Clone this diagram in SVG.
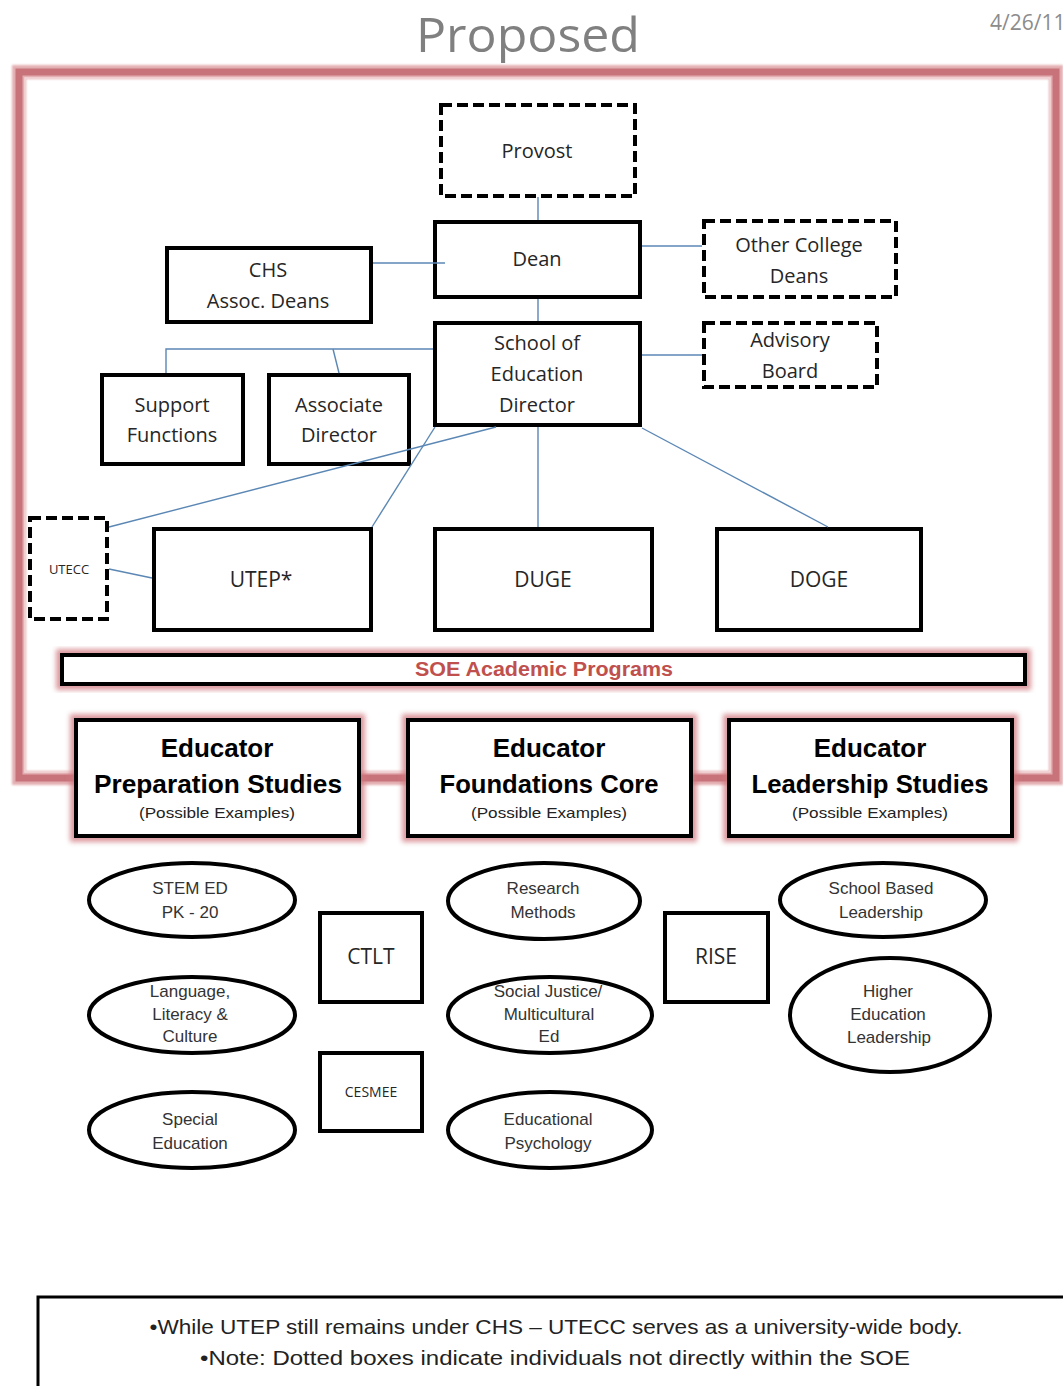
<svg xmlns="http://www.w3.org/2000/svg" width="1063" height="1386" viewBox="0 0 1063 1386">
<defs>
<filter id="glow" x="-10%" y="-30%" width="120%" height="160%">
<feGaussianBlur stdDeviation="2.5"/>
</filter>
<filter id="soft" x="-5%" y="-5%" width="110%" height="110%">
<feGaussianBlur stdDeviation="1.2"/>
</filter>
</defs>
<style>
.box{fill:#fff;stroke:#000;stroke-width:4}
.dash{fill:#fff;stroke:#000;stroke-width:4;stroke-dasharray:11 5}
.ell{fill:#fff;stroke:#000;stroke-width:4}
.t{font-family:"Open Sans","DejaVu Sans",sans-serif;font-size:20px;fill:#262626;text-anchor:middle}
.e{font-family:"Liberation Sans",Arial,sans-serif;font-size:17px;fill:#333;text-anchor:middle}
.h{font-family:"Liberation Sans",Arial,sans-serif;font-size:26px;font-weight:bold;fill:#000;text-anchor:middle}
.p{font-family:"Liberation Sans",Arial,sans-serif;font-size:15px;fill:#222;text-anchor:middle}
.n{font-family:"Liberation Sans",Arial,sans-serif;font-size:21px;fill:#222;text-anchor:middle}
.conn line,.conn polyline{stroke:#5b87b4;stroke-width:1.4;fill:none}
.glowr{fill:none;stroke:#d0787e;stroke-width:12;opacity:0.75}
</style>
<rect width="1063" height="1386" fill="#fff"/>

<g id="title">
<text x="528" y="52" font-family="Open Sans, DejaVu Sans, sans-serif" font-size="48" fill="#808080" text-anchor="middle" textLength="224" lengthAdjust="spacingAndGlyphs">Proposed</text>
<text x="990" y="30" font-family="Open Sans, DejaVu Sans, sans-serif" font-size="21" fill="#8c8c8c">4/26/11</text>
</g>

<g id="frame">
<rect x="19" y="72" width="1037" height="706" fill="none" stroke="#e3aeb2" stroke-width="14" filter="url(#soft)"/>
<rect x="19" y="72" width="1037" height="706" fill="none" stroke="#c8737a" stroke-width="7"/>
<rect x="25" y="78" width="1025" height="694" fill="none" stroke="#f3d6d8" stroke-width="1.5"/>
</g>

<g id="provost"><rect class="dash" x="441" y="105" width="194" height="91"/><text class="t" x="537" y="158">Provost</text></g>
<g id="dean"><rect class="box" x="435" y="222" width="205" height="75"/><text class="t" x="537" y="266">Dean</text></g>
<g id="chs"><rect class="box" x="167" y="248" width="204" height="74"/><text class="t" x="268" y="277">CHS</text><text class="t" x="268" y="308">Assoc. Deans</text></g>
<g id="other-deans"><rect class="dash" x="704" y="221" width="192" height="76"/><text class="t" x="799" y="252">Other College</text><text class="t" x="799" y="283">Deans</text></g>
<g id="soe-director"><rect class="box" x="435" y="323" width="205" height="102"/><text class="t" x="537" y="350">School of</text><text class="t" x="537" y="381">Education</text><text class="t" x="537" y="412">Director</text></g>
<g id="advisory"><rect class="dash" x="704" y="323" width="173" height="64"/><text class="t" x="790" y="347">Advisory</text><text class="t" x="790" y="378">Board</text></g>
<g id="support"><rect class="box" x="102" y="375" width="141" height="89"/><text class="t" x="172" y="412">Support</text><text class="t" x="172" y="442">Functions</text></g>
<g id="assoc-director"><rect class="box" x="269" y="375" width="140" height="89"/><text class="t" x="339" y="412">Associate</text><text class="t" x="339" y="442">Director</text></g>
<g id="utecc"><rect class="dash" x="30" y="518" width="77" height="101"/><text class="t" x="69" y="574" style="font-size:13px">UTECC</text></g>
<g id="utep"><rect class="box" x="154" y="529" width="217" height="101"/><text class="t" x="261" y="587" style="font-size:21px">UTEP*</text></g>
<g id="duge"><rect class="box" x="435" y="529" width="217" height="101"/><text class="t" x="543" y="587" style="font-size:21px">DUGE</text></g>
<g id="doge"><rect class="box" x="717" y="529" width="204" height="101"/><text class="t" x="819" y="587" style="font-size:21px">DOGE</text></g>

<g class="conn" id="connectors">
<line x1="538" y1="197" x2="538" y2="220"/>
<line x1="373" y1="263" x2="445" y2="263"/>
<line x1="642" y1="246" x2="702" y2="246"/>
<line x1="538" y1="299" x2="538" y2="321"/>
<line x1="642" y1="355" x2="702" y2="355"/>
<polyline points="433,349 166,349 166,373"/>
<line x1="333" y1="349" x2="339" y2="373"/>
<line x1="538" y1="427" x2="538" y2="527"/>
<line x1="642" y1="428" x2="828" y2="527"/>
<line x1="435" y1="427" x2="372" y2="527"/>
<line x1="496" y1="427" x2="109" y2="527"/>
<line x1="109" y1="569" x2="152" y2="578"/>
</g>

<g id="soe-programs">
<rect x="62" y="655" width="963" height="29" class="glowr" filter="url(#glow)"/>
<rect x="62" y="655" width="963" height="29" fill="#fff" stroke="#000" stroke-width="4"/>
<text x="544" y="676" font-family="Liberation Sans, Arial, sans-serif" font-size="20" font-weight="bold" fill="#c0504d" text-anchor="middle" textLength="258" lengthAdjust="spacingAndGlyphs">SOE Academic Programs</text>
</g>

<g id="prep-studies">
<rect x="76" y="720" width="283" height="116" class="glowr" filter="url(#glow)"/>
<rect x="76" y="720" width="283" height="116" class="box"/>
<text class="h" x="217" y="757">Educator</text>
<text class="h" x="218" y="793" textLength="248" lengthAdjust="spacingAndGlyphs">Preparation Studies</text>
<text class="p" x="217" y="818" textLength="156" lengthAdjust="spacingAndGlyphs">(Possible Examples)</text>
</g>
<g id="foundations-core">
<rect x="408" y="720" width="283" height="116" class="glowr" filter="url(#glow)"/>
<rect x="408" y="720" width="283" height="116" class="box"/>
<text class="h" x="549" y="757">Educator</text>
<text class="h" x="549" y="793" textLength="219" lengthAdjust="spacingAndGlyphs">Foundations Core</text>
<text class="p" x="549" y="818" textLength="156" lengthAdjust="spacingAndGlyphs">(Possible Examples)</text>
</g>
<g id="leadership-studies">
<rect x="729" y="720" width="283" height="116" class="glowr" filter="url(#glow)"/>
<rect x="729" y="720" width="283" height="116" class="box"/>
<text class="h" x="870" y="757">Educator</text>
<text class="h" x="870" y="793" textLength="237" lengthAdjust="spacingAndGlyphs">Leadership Studies</text>
<text class="p" x="870" y="818" textLength="156" lengthAdjust="spacingAndGlyphs">(Possible Examples)</text>
</g>

<g id="stem"><ellipse class="ell" cx="192" cy="900" rx="103" ry="37"/><text class="e" x="190" y="894">STEM ED</text><text class="e" x="190" y="918">PK - 20</text></g>
<g id="language"><ellipse class="ell" cx="192" cy="1015" rx="103" ry="38"/><text class="e" x="190" y="997">Language,</text><text class="e" x="190" y="1020">Literacy &amp;</text><text class="e" x="190" y="1042">Culture</text></g>
<g id="special-ed"><ellipse class="ell" cx="192" cy="1130" rx="103" ry="38"/><text class="e" x="190" y="1125">Special</text><text class="e" x="190" y="1149">Education</text></g>
<g id="ctlt"><rect class="box" x="320" y="913" width="102" height="89"/><text class="t" x="371" y="964" style="font-size:21px">CTLT</text></g>
<g id="cesmee"><rect class="box" x="320" y="1053" width="102" height="78"/><text class="t" x="371" y="1097" style="font-size:14px">CESMEE</text></g>
<g id="research"><ellipse class="ell" cx="544" cy="901" rx="96" ry="38"/><text class="e" x="543" y="894">Research</text><text class="e" x="543" y="918">Methods</text></g>
<g id="social-justice"><ellipse class="ell" cx="550" cy="1015" rx="102" ry="38"/><text class="e" x="548" y="997">Social Justice/</text><text class="e" x="549" y="1020">Multicultural</text><text class="e" x="549" y="1042">Ed</text></g>
<g id="ed-psych"><ellipse class="ell" cx="550" cy="1130" rx="102" ry="38"/><text class="e" x="548" y="1125">Educational</text><text class="e" x="548" y="1149">Psychology</text></g>
<g id="rise"><rect class="box" x="665" y="913" width="103" height="89"/><text class="t" x="716" y="964" style="font-size:21px">RISE</text></g>
<g id="school-leadership"><ellipse class="ell" cx="883" cy="900" rx="103" ry="37"/><text class="e" x="881" y="894">School Based</text><text class="e" x="881" y="918">Leadership</text></g>
<g id="higher-ed"><ellipse class="ell" cx="890" cy="1015" rx="100" ry="57"/><text class="e" x="888" y="997">Higher</text><text class="e" x="888" y="1020">Education</text><text class="e" x="889" y="1043">Leadership</text></g>

<g id="note">
<rect x="38" y="1297" width="1060" height="120" fill="#fff" stroke="#000" stroke-width="3"/>
<text class="n" x="556" y="1334" textLength="813" lengthAdjust="spacingAndGlyphs">•While UTEP still remains under  CHS – UTECC serves as a university-wide body.</text>
<text class="n" x="555" y="1365" textLength="710" lengthAdjust="spacingAndGlyphs">•Note:  Dotted boxes indicate individuals not directly within the SOE</text>
</g>
</svg>
